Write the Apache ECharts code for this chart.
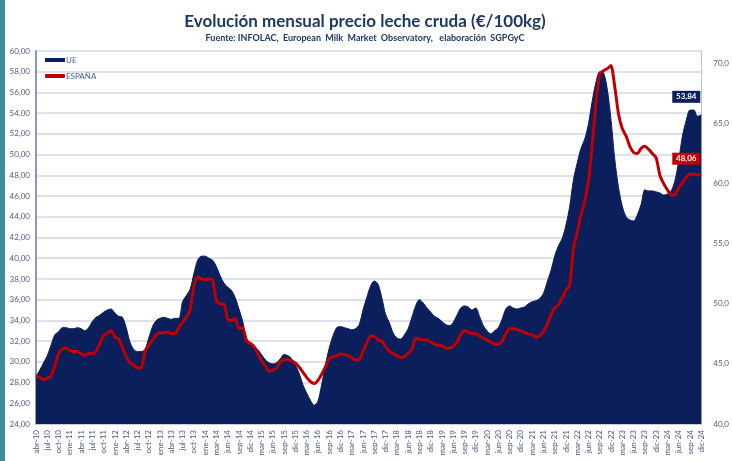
<!DOCTYPE html>
<html>
<head>
<meta charset="utf-8">
<script src="https://cdn.jsdelivr.net/npm/echarts@6/dist/echarts.min.js"></script>
<style>
  html, body { margin: 0; padding: 0; background: #fff; }
  #chart { width: 732px; height: 461px; }
</style>
</head>
<body>
<div id="chart"></div>
<script>
// meses abr-10 .. dic-24 (la serie original repite feb-14)
const meses = ["ene","feb","mar","abr","may","jun","jul","ago","sep","oct","nov","dic"];
const categorias = [];
for (let a = 2010; a <= 2024; a++) {
  for (let m = 0; m < 12; m++) {
    if (a === 2010 && m < 3) continue;
    categorias.push(meses[m] + "-" + String(a).slice(2));
    if (a === 2014 && m === 1) categorias.push("feb-14");
  }
}

// €/100kg
const ue = [
  28.6, 29.2, 29.9, 30.6, 31.6, 32.6, 32.9, 33.3, 33.3, 33.2,
  33.2, 33.3, 33.2, 33.0, 33.3, 33.9, 34.3, 34.5, 34.8, 35.0,
  35.1, 34.7, 34.4, 34.3, 33.3, 31.9, 31.2, 31.0, 31.0, 31.2,
  32.3, 33.4, 34.0, 34.2, 34.3, 34.2, 34.1, 34.2, 34.2, 35.8,
  36.4, 37.0, 38.5, 39.8, 40.2, 40.2, 40.0, 39.8, 39.2, 38.3,
  37.6, 37.2, 36.9, 36.2, 35.1, 33.9, 32.3, 31.8, 31.5, 31.2,
  30.7, 30.2, 29.9, 29.8, 29.9, 30.3, 30.7, 30.6, 30.3, 29.7,
  28.9, 27.8, 27.0, 26.3, 25.8, 26.2, 27.8, 29.7, 31.3, 32.5,
  33.3, 33.4, 33.3, 33.2, 33.1, 33.2, 33.6, 35.0, 36.2, 37.3,
  37.8, 37.5, 36.2, 34.6, 33.8, 32.8, 32.3, 32.2, 32.6, 33.2,
  34.3, 35.4, 36.0, 35.7, 35.2, 34.8, 34.4, 34.2, 33.9, 33.6,
  33.5, 33.8, 34.5, 35.2, 35.4, 35.3, 35.0, 35.2, 34.4, 33.5,
  33.0, 32.7, 33.0, 33.3, 34.1, 35.1, 35.4, 35.2, 35.1, 35.2,
  35.3, 35.6, 35.8, 35.9, 36.1, 36.6, 37.7, 38.8, 40.2, 41.2,
  41.9, 43.2, 45.0, 47.6, 49.2, 50.6, 51.5, 53.0, 55.2, 57.0,
  58.0, 57.9, 56.3, 53.3, 49.5, 46.8, 45.0, 44.0, 43.7, 43.6,
  44.2, 45.2, 46.6, 46.5, 46.5, 46.4, 46.3, 46.1, 46.2, 46.5,
  47.5, 49.4, 51.8, 53.3, 54.3, 54.3, 53.7, 53.84
];

const espana = [
  28.6, 28.5, 28.3, 28.4, 28.6, 29.6, 30.8, 31.2, 31.35, 31.1,
  31.0, 31.0, 30.8, 30.6, 30.8, 30.8, 31.0, 31.8, 32.5, 32.8,
  33.0, 32.4, 32.2, 31.4, 30.5, 29.9, 29.7, 29.4, 29.4, 31.0,
  31.6, 32.1, 32.6, 32.8, 32.8, 32.9, 32.7, 32.7, 33.3, 33.8,
  34.3, 35.0, 37.3, 38.2, 38.0, 37.9, 38.0, 37.9, 35.9, 35.6,
  35.6, 34.1, 34.0, 34.2, 33.2, 33.3, 32.0, 31.8, 31.5, 30.8,
  30.1, 29.6, 29.1, 29.2, 29.4, 30.0, 30.2, 30.2, 30.1, 29.9,
  29.5, 29.0, 28.5, 28.1, 27.9, 28.2, 28.8, 29.5, 30.3, 30.5,
  30.6, 30.75, 30.7, 30.6, 30.4, 30.2, 30.2, 31.0, 31.8, 32.5,
  32.5, 32.1, 32.0, 31.5, 31.0, 30.8, 30.6, 30.4, 30.5, 30.8,
  31.2, 32.3, 32.2, 32.1, 32.1, 31.9, 31.7, 31.6, 31.6, 31.3,
  31.3, 31.5, 31.9, 32.6, 33.0, 32.9, 32.7, 32.7, 32.5, 32.3,
  32.1, 31.9, 31.7, 31.7, 32.0, 32.7, 33.2, 33.2, 33.1, 33.0,
  32.8, 32.7, 32.6, 32.4, 32.5, 32.9, 33.6, 34.5, 35.2, 35.5,
  36.2, 36.9, 37.4, 41.0, 42.5, 44.2, 45.5, 47.5, 51.0, 55.0,
  57.8, 58.1, 58.3, 58.6, 56.5, 53.9, 52.5, 51.8, 50.8, 50.2,
  50.1, 50.6, 50.8, 50.5, 50.1, 49.7, 48.0, 47.2, 46.6, 46.1,
  46.1, 46.8, 47.3, 47.8, 48.1, 48.1, 48.06, 48.06
];

const coma = (v, d) => v.toFixed(d).replace(".", ",");
const ultimo = ue.length - 1;
const azul = "#0b1f5c";
const rojo = "#c00000";
const gris = "#4d5b82";

// recuadro con el último valor, por encima y a la izquierda del final de la serie
function etiquetaFinal(datos, color, subir) {
  return {
    silent: true,
    symbol: "rect",
    symbolSize: [28, 12],
    symbolOffset: [-15, -subir],
    itemStyle: { color: color },
    label: {
      show: true, position: "inside", offset: [0, 0],
      formatter: p => coma(p.value, 2),
      color: "#fff", fontSize: 8, fontWeight: "bold", fontFamily: "Lato"
    },
    data: [{ coord: [ultimo, datos[ultimo]], value: datos[ultimo] }]
  };
}

const chart = echarts.init(document.getElementById("chart"));
chart.setOption({
  backgroundColor: "#fff",
  animation: false,
  graphic: [
    { type: "rect", left: 0, top: 0, shape: { width: 5, height: 461 }, style: { fill: "#3e8d9c" } }
  ],
  title: {
    text: "Evolución mensual precio leche cruda (€/100kg)",
    subtext: "Fuente: INFOLAC,  European  Milk  Market  Observatory,   elaboración  SGPGyC",
    left: 360, top: 8, textAlign: "center", itemGap: 4,
    textStyle: { fontFamily: "Lato", fontSize: 17, fontWeight: "bold", color: "#1f3864" },
    subtextStyle: { fontFamily: "Lato", fontSize: 9, fontWeight: "bold", color: "#1f3864" }
  },
  legend: {
    orient: "vertical", left: 40, top: 51, itemWidth: 20, itemHeight: 4, itemGap: 8,
    textStyle: { fontSize: 8, color: gris, fontFamily: "Lato", padding: [0, 0, 0, -4] },
    data: [{ name: "UE", icon: "rect" }, { name: "ESPAÑA", icon: "roundRect" }]
  },
  grid: { left: 36, right: 23, top: 51, bottom: 37 },
  xAxis: {
    type: "category", data: categorias, boundaryGap: false,
    axisLine: { show: true, lineStyle: { color: "#c8cce0" } },
    axisTick: { show: false },
    axisLabel: { interval: 2, rotate: 90, fontSize: 8, color: gris, fontFamily: "Lato", margin: 6 }
  },
  yAxis: [
    {
      type: "value", min: 24, max: 60, interval: 2,
      axisLine: { show: true, lineStyle: { color: "#8c96ba", width: 2 } },
      axisTick: { show: false },
      axisLabel: { fontSize: 8, color: gris, fontFamily: "Lato", margin: 6, formatter: v => coma(v, 2) },
      splitLine: { lineStyle: { color: "#d3d7e5", width: 1.5 } }
    },
    {
      type: "value", min: 40, max: 71, interval: 5, position: "right",
      axisLine: { show: true, lineStyle: { color: "#b8bfd8", width: 1 } },
      axisTick: { show: false },
      axisLabel: { fontSize: 8, color: gris, fontFamily: "Lato", margin: 12, showMaxLabel: false, formatter: v => coma(v, 1) },
      splitLine: { show: false }
    }
  ],
  series: [
    {
      name: "UE", type: "line", data: ue,
      smooth: 0.3, symbol: "none",
      itemStyle: { color: azul },
      lineStyle: { color: azul, width: 1 },
      areaStyle: { color: azul, opacity: 1 },
      markPoint: etiquetaFinal(ue, azul, 18),
      z: 2
    },
    {
      name: "ESPAÑA", type: "line", data: espana,
      smooth: 0.2, symbol: "none",
      itemStyle: { color: rojo },
      lineStyle: { color: rojo, width: 3 },
      markPoint: etiquetaFinal(espana, rojo, 16),
      z: 3
    }
  ]
});
</script>
</body>
</html>
